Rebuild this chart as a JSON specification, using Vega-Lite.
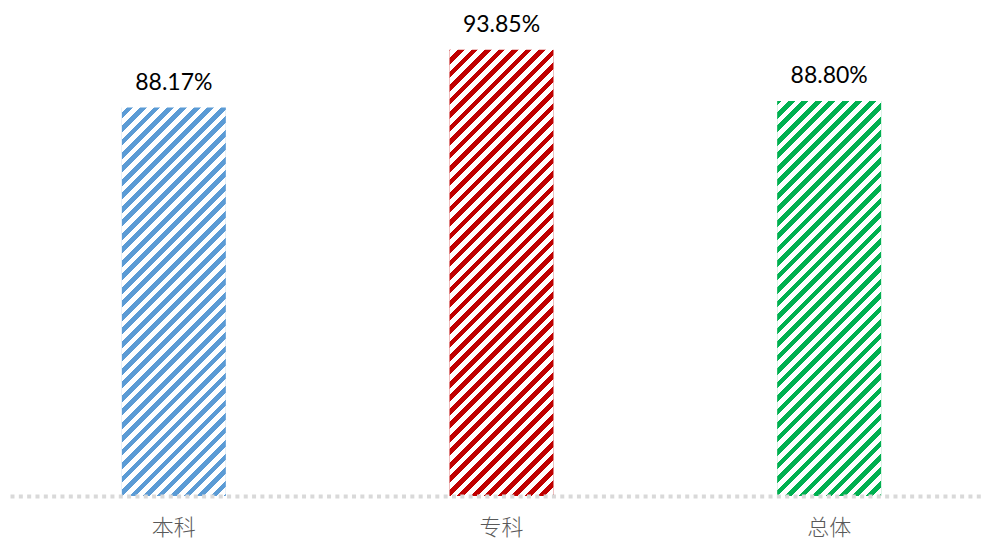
{
  "$schema": "https://vega.github.io/schema/vega-lite/v6.json",
  "autosize": {"type": "none"},
  "width": 983,
  "height": 458,
  "padding": {"left": 10, "top": 38, "right": 0, "bottom": 43},
  "background": "#ffffff",
  "config": {"view": {"stroke": null}},
  "data": {
    "values": [
      {"group": "本科", "rate": 0.8817},
      {"group": "专科", "rate": 0.9385},
      {"group": "总体", "rate": 0.8880}
    ]
  },
  "encoding": {
    "x": {
      "field": "group",
      "type": "nominal",
      "sort": ["本科", "专科", "总体"],
      "scale": {"paddingInner": 0.6826, "paddingOuter": 0.3413},
      "axis": {
        "title": null,
        "orient": "bottom",
        "ticks": false,
        "tickSize": 0,
        "labelAngle": 0,
        "labelFont": "Noto Sans CJK SC",
        "labelFontSize": 22,
        "labelFontWeight": 300,
        "labelColor": "#595959",
        "labelPadding": 21,
        "domainColor": "#D9D9D9",
        "domainWidth": 4,
        "domainDash": [4, 4.33],
        "zindex": 1
      }
    }
  },
  "layer": [
    {
      "mark": {"type": "bar", "clip": true},
      "encoding": {
        "y": {"field": "rate", "type": "quantitative", "scale": {"domain": [0.5, 0.95], "zero": false, "nice": false}, "axis": null},
        "y2": {"datum": 0.5},
        "color": {
          "field": "group",
          "type": "nominal",
          "scale": {"domain": ["本科", "专科", "总体"], "range": ["#5B9BD5", "#C00000", "#00B050"]},
          "legend": null
        }
      }
    },
    {
      "mark": {
        "type": "bar",
        "clip": true,
        "fill": {
          "gradient": "linear",
          "x1": 0, "y1": 0, "x2": 0.265, "y2": 1.167,
          "stops": [
            {"offset": 0, "color": "#ffffff"}, {"offset": 0.012, "color": "#ffffff"},
            {"offset": 0.012, "color": "rgba(255,255,255,0)"}, {"offset": 0.024, "color": "rgba(255,255,255,0)"},
            {"offset": 0.024, "color": "#ffffff"}, {"offset": 0.036, "color": "#ffffff"},
            {"offset": 0.036, "color": "rgba(255,255,255,0)"}, {"offset": 0.048, "color": "rgba(255,255,255,0)"},
            {"offset": 0.048, "color": "#ffffff"}, {"offset": 0.06, "color": "#ffffff"},
            {"offset": 0.06, "color": "rgba(255,255,255,0)"}, {"offset": 0.072, "color": "rgba(255,255,255,0)"},
            {"offset": 0.072, "color": "#ffffff"}, {"offset": 0.084, "color": "#ffffff"},
            {"offset": 0.084, "color": "rgba(255,255,255,0)"}, {"offset": 0.096, "color": "rgba(255,255,255,0)"},
            {"offset": 0.096, "color": "#ffffff"}, {"offset": 0.108, "color": "#ffffff"},
            {"offset": 0.108, "color": "rgba(255,255,255,0)"}, {"offset": 0.12, "color": "rgba(255,255,255,0)"},
            {"offset": 0.12, "color": "#ffffff"}, {"offset": 0.132, "color": "#ffffff"},
            {"offset": 0.132, "color": "rgba(255,255,255,0)"}, {"offset": 0.144, "color": "rgba(255,255,255,0)"},
            {"offset": 0.144, "color": "#ffffff"}, {"offset": 0.156, "color": "#ffffff"},
            {"offset": 0.156, "color": "rgba(255,255,255,0)"}, {"offset": 0.168, "color": "rgba(255,255,255,0)"},
            {"offset": 0.168, "color": "#ffffff"}, {"offset": 0.18, "color": "#ffffff"},
            {"offset": 0.18, "color": "rgba(255,255,255,0)"}, {"offset": 0.192, "color": "rgba(255,255,255,0)"},
            {"offset": 0.192, "color": "#ffffff"}, {"offset": 0.204, "color": "#ffffff"},
            {"offset": 0.204, "color": "rgba(255,255,255,0)"}, {"offset": 0.216, "color": "rgba(255,255,255,0)"},
            {"offset": 0.216, "color": "#ffffff"}, {"offset": 0.228, "color": "#ffffff"},
            {"offset": 0.228, "color": "rgba(255,255,255,0)"}, {"offset": 0.24, "color": "rgba(255,255,255,0)"},
            {"offset": 0.24, "color": "#ffffff"}, {"offset": 0.252, "color": "#ffffff"},
            {"offset": 0.252, "color": "rgba(255,255,255,0)"}, {"offset": 0.264, "color": "rgba(255,255,255,0)"},
            {"offset": 0.264, "color": "#ffffff"}, {"offset": 0.276, "color": "#ffffff"},
            {"offset": 0.276, "color": "rgba(255,255,255,0)"}, {"offset": 0.288, "color": "rgba(255,255,255,0)"},
            {"offset": 0.288, "color": "#ffffff"}, {"offset": 0.3, "color": "#ffffff"},
            {"offset": 0.3, "color": "rgba(255,255,255,0)"}, {"offset": 0.312, "color": "rgba(255,255,255,0)"},
            {"offset": 0.312, "color": "#ffffff"}, {"offset": 0.324, "color": "#ffffff"},
            {"offset": 0.324, "color": "rgba(255,255,255,0)"}, {"offset": 0.336, "color": "rgba(255,255,255,0)"},
            {"offset": 0.336, "color": "#ffffff"}, {"offset": 0.348, "color": "#ffffff"},
            {"offset": 0.348, "color": "rgba(255,255,255,0)"}, {"offset": 0.36, "color": "rgba(255,255,255,0)"},
            {"offset": 0.36, "color": "#ffffff"}, {"offset": 0.372, "color": "#ffffff"},
            {"offset": 0.372, "color": "rgba(255,255,255,0)"}, {"offset": 0.384, "color": "rgba(255,255,255,0)"},
            {"offset": 0.384, "color": "#ffffff"}, {"offset": 0.396, "color": "#ffffff"},
            {"offset": 0.396, "color": "rgba(255,255,255,0)"}, {"offset": 0.408, "color": "rgba(255,255,255,0)"},
            {"offset": 0.408, "color": "#ffffff"}, {"offset": 0.42, "color": "#ffffff"},
            {"offset": 0.42, "color": "rgba(255,255,255,0)"}, {"offset": 0.432, "color": "rgba(255,255,255,0)"},
            {"offset": 0.432, "color": "#ffffff"}, {"offset": 0.444, "color": "#ffffff"},
            {"offset": 0.444, "color": "rgba(255,255,255,0)"}, {"offset": 0.456, "color": "rgba(255,255,255,0)"},
            {"offset": 0.456, "color": "#ffffff"}, {"offset": 0.468, "color": "#ffffff"},
            {"offset": 0.468, "color": "rgba(255,255,255,0)"}, {"offset": 0.48, "color": "rgba(255,255,255,0)"},
            {"offset": 0.48, "color": "#ffffff"}, {"offset": 0.492, "color": "#ffffff"},
            {"offset": 0.492, "color": "rgba(255,255,255,0)"}, {"offset": 0.504, "color": "rgba(255,255,255,0)"},
            {"offset": 0.504, "color": "#ffffff"}, {"offset": 0.516, "color": "#ffffff"},
            {"offset": 0.516, "color": "rgba(255,255,255,0)"}, {"offset": 0.528, "color": "rgba(255,255,255,0)"},
            {"offset": 0.528, "color": "#ffffff"}, {"offset": 0.54, "color": "#ffffff"},
            {"offset": 0.54, "color": "rgba(255,255,255,0)"}, {"offset": 0.552, "color": "rgba(255,255,255,0)"},
            {"offset": 0.552, "color": "#ffffff"}, {"offset": 0.564, "color": "#ffffff"},
            {"offset": 0.564, "color": "rgba(255,255,255,0)"}, {"offset": 0.576, "color": "rgba(255,255,255,0)"},
            {"offset": 0.576, "color": "#ffffff"}, {"offset": 0.588, "color": "#ffffff"},
            {"offset": 0.588, "color": "rgba(255,255,255,0)"}, {"offset": 0.6, "color": "rgba(255,255,255,0)"},
            {"offset": 0.6, "color": "#ffffff"}, {"offset": 0.612, "color": "#ffffff"},
            {"offset": 0.612, "color": "rgba(255,255,255,0)"}, {"offset": 0.624, "color": "rgba(255,255,255,0)"},
            {"offset": 0.624, "color": "#ffffff"}, {"offset": 0.636, "color": "#ffffff"},
            {"offset": 0.636, "color": "rgba(255,255,255,0)"}, {"offset": 0.648, "color": "rgba(255,255,255,0)"},
            {"offset": 0.648, "color": "#ffffff"}, {"offset": 0.66, "color": "#ffffff"},
            {"offset": 0.66, "color": "rgba(255,255,255,0)"}, {"offset": 0.672, "color": "rgba(255,255,255,0)"},
            {"offset": 0.672, "color": "#ffffff"}, {"offset": 0.684, "color": "#ffffff"},
            {"offset": 0.684, "color": "rgba(255,255,255,0)"}, {"offset": 0.696, "color": "rgba(255,255,255,0)"},
            {"offset": 0.696, "color": "#ffffff"}, {"offset": 0.708, "color": "#ffffff"},
            {"offset": 0.708, "color": "rgba(255,255,255,0)"}, {"offset": 0.72, "color": "rgba(255,255,255,0)"},
            {"offset": 0.72, "color": "#ffffff"}, {"offset": 0.732, "color": "#ffffff"},
            {"offset": 0.732, "color": "rgba(255,255,255,0)"}, {"offset": 0.744, "color": "rgba(255,255,255,0)"},
            {"offset": 0.744, "color": "#ffffff"}, {"offset": 0.756, "color": "#ffffff"},
            {"offset": 0.756, "color": "rgba(255,255,255,0)"}, {"offset": 0.768, "color": "rgba(255,255,255,0)"},
            {"offset": 0.768, "color": "#ffffff"}, {"offset": 0.78, "color": "#ffffff"},
            {"offset": 0.78, "color": "rgba(255,255,255,0)"}, {"offset": 0.792, "color": "rgba(255,255,255,0)"},
            {"offset": 0.792, "color": "#ffffff"}, {"offset": 0.804, "color": "#ffffff"},
            {"offset": 0.804, "color": "rgba(255,255,255,0)"}, {"offset": 0.816, "color": "rgba(255,255,255,0)"},
            {"offset": 0.816, "color": "#ffffff"}, {"offset": 0.828, "color": "#ffffff"},
            {"offset": 0.828, "color": "rgba(255,255,255,0)"}, {"offset": 0.84, "color": "rgba(255,255,255,0)"},
            {"offset": 0.84, "color": "#ffffff"}, {"offset": 0.852, "color": "#ffffff"},
            {"offset": 0.852, "color": "rgba(255,255,255,0)"}, {"offset": 0.864, "color": "rgba(255,255,255,0)"},
            {"offset": 0.864, "color": "#ffffff"}, {"offset": 0.876, "color": "#ffffff"},
            {"offset": 0.876, "color": "rgba(255,255,255,0)"}, {"offset": 0.888, "color": "rgba(255,255,255,0)"},
            {"offset": 0.888, "color": "#ffffff"}, {"offset": 0.9, "color": "#ffffff"},
            {"offset": 0.9, "color": "rgba(255,255,255,0)"}, {"offset": 0.912, "color": "rgba(255,255,255,0)"},
            {"offset": 0.912, "color": "#ffffff"}, {"offset": 0.924, "color": "#ffffff"},
            {"offset": 0.924, "color": "rgba(255,255,255,0)"}, {"offset": 0.936, "color": "rgba(255,255,255,0)"},
            {"offset": 0.936, "color": "#ffffff"}, {"offset": 0.948, "color": "#ffffff"},
            {"offset": 0.948, "color": "rgba(255,255,255,0)"}, {"offset": 0.96, "color": "rgba(255,255,255,0)"},
            {"offset": 0.96, "color": "#ffffff"}, {"offset": 0.972, "color": "#ffffff"},
            {"offset": 0.972, "color": "rgba(255,255,255,0)"}, {"offset": 0.984, "color": "rgba(255,255,255,0)"},
            {"offset": 0.984, "color": "#ffffff"}, {"offset": 0.996, "color": "#ffffff"},
            {"offset": 0.996, "color": "rgba(255,255,255,0)"}, {"offset": 1, "color": "rgba(255,255,255,0)"}
          ]
        }
      },
      "encoding": {
        "y": {"datum": 0.95, "type": "quantitative"},
        "y2": {"datum": 0.5}
      }
    },
    {
      "mark": {"type": "text", "font": "Lato", "fontSize": 23, "color": "#000000", "baseline": "alphabetic", "dy": -18},
      "encoding": {
        "y": {"field": "rate", "type": "quantitative"},
        "text": {"field": "rate", "type": "quantitative", "format": ".2%"}
      }
    }
  ]
}
